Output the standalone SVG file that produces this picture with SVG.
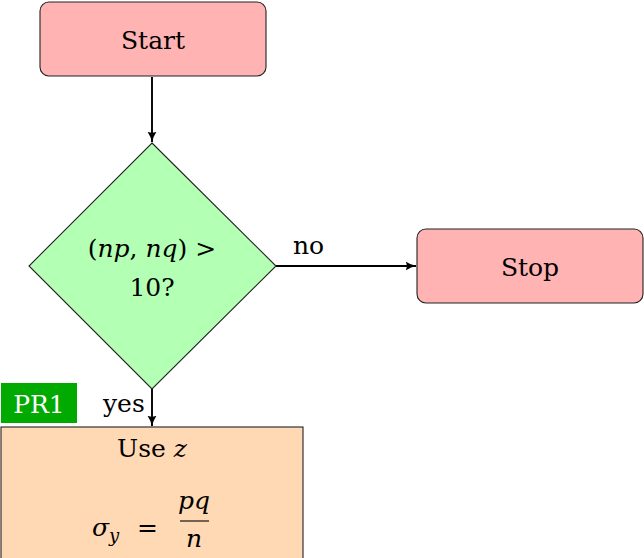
<svg xmlns="http://www.w3.org/2000/svg" width="644" height="558" viewBox="0 0 644 558">
<style>
.t{font-family:"DejaVu Serif",serif;font-size:25px;fill:#000}
.i{font-style:italic}
.box{stroke:#222;stroke-width:1.1}
.c{fill:none;stroke:#000;stroke-width:1.9}
</style>
<defs>
<marker id="ah" viewBox="0 0 10 10" refX="9.5" refY="5" markerWidth="11" markerHeight="11" markerUnits="userSpaceOnUse" orient="auto">
<path d="M0,0.8 Q4.5,4 10,5 Q4.5,6 0,9.2 Q2.2,5 0,0.8Z" fill="#000"/>
</marker>
</defs>
<g id="start">
<rect class="box" x="40" y="2" width="226" height="74" rx="9" fill="#ffb3b3"/>
<text class="t" x="153" y="49" text-anchor="middle">Start</text>
</g>
<g id="decision">
<polygon class="box" points="152,143 276,266 152,389 29,266" fill="#b3ffb3"/>
<text class="t" x="152" y="257" text-anchor="middle">(<tspan class="i">np</tspan>, <tspan class="i">nq</tspan>) &gt;</text>
<text class="t" x="152" y="296" text-anchor="middle">10?</text>
</g>
<g id="stop">
<rect class="box" x="417" y="229" width="226" height="74" rx="9" fill="#ffb3b3"/>
<text class="t" x="530" y="276" text-anchor="middle">Stop</text>
</g>
<g id="usez">
<rect class="box" x="1" y="427" width="302" height="140" fill="#ffd9b3"/>
<text class="t" x="152" y="457" text-anchor="middle">Use <tspan class="i">z</tspan></text>
<text class="t i" x="92" y="536">σ</text>
<text class="t i" x="109" y="542" style="font-size:18px">y</text>
<text class="t" x="137" y="536">=</text>
<text class="t i" x="194" y="509" text-anchor="middle">pq</text>
<line x1="180" y1="521" x2="209" y2="521" stroke="#000" stroke-width="1.1"/>
<text class="t i" x="194" y="547" text-anchor="middle">n</text>
</g>
<g id="pr1">
<rect x="1" y="383" width="76" height="40" fill="#00aa00"/>
<text class="t" x="39" y="413" text-anchor="middle" style="fill:#fff">PR1</text>
</g>
<g id="connectors">
<line class="c" x1="152" y1="77" x2="152" y2="142" marker-end="url(#ah)"/>
<line class="c" x1="276" y1="266" x2="416" y2="266" marker-end="url(#ah)"/>
<line class="c" x1="152" y1="389" x2="152" y2="426" marker-end="url(#ah)"/>
<text class="t" x="293" y="254">no</text>
<text class="t" x="103" y="412">yes</text>
</g>
</svg>
